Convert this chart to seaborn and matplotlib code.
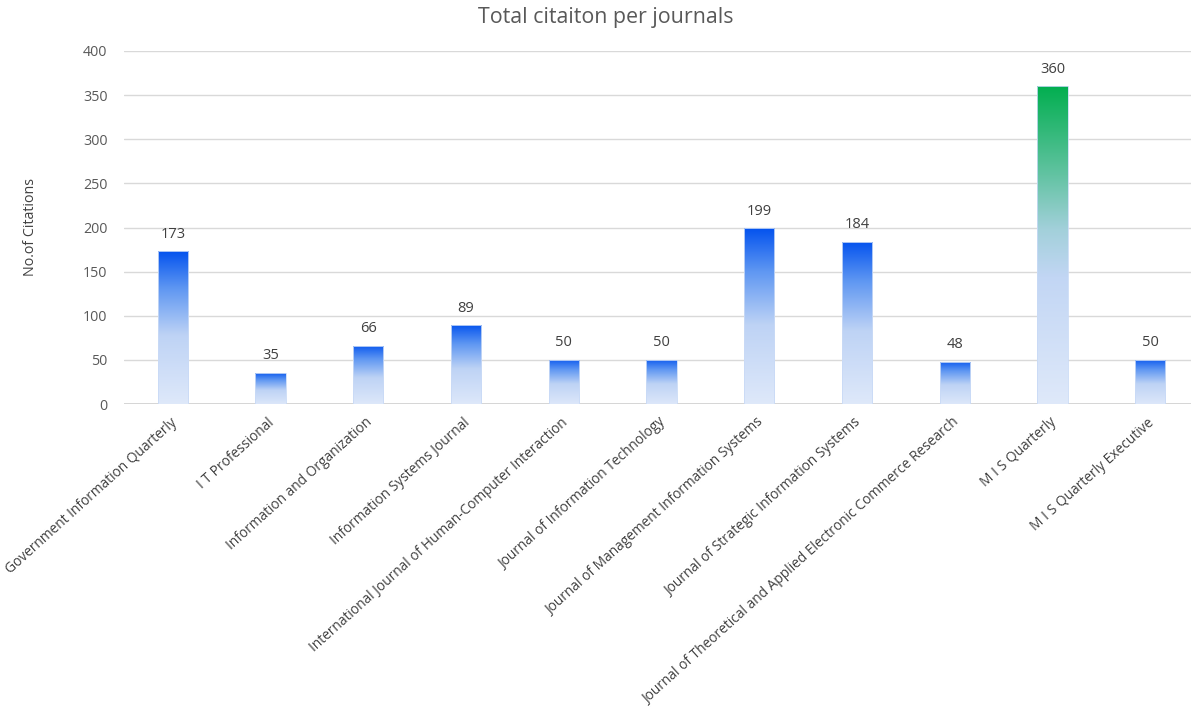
import numpy as np
import pandas as pd
import seaborn as sns
import matplotlib.pyplot as plt
import matplotlib.transforms as mtransforms
from matplotlib.colors import LinearSegmentedColormap

# data
journals = [
    "Government Information Quarterly",
    "I T Professional",
    "Information and Organization",
    "Information Systems Journal",
    "International Journal of Human-Computer Interaction",
    "Journal of Information Technology",
    "Journal of Management Information Systems",
    "Journal of Strategic Information Systems",
    "Journal of Theoretical and Applied Electronic Commerce Research",
    "M I S Quarterly",
    "M I S Quarterly Executive",
]
citations = [173, 35, 66, 89, 50, 50, 199, 184, 48, 360, 50]
highlight = "M I S Quarterly"

df = pd.DataFrame({"journal": journals, "citations": citations})

sns.set_theme(style="white")
plt.rcParams['font.family'] = ['Open Sans', 'DejaVu Sans']

# gradients go bottom (0) -> top (1)
blue_cmap = LinearSegmentedColormap.from_list(
    "blue", [(0, "#dfe9fa"), (0.45, "#bed3f5"), (0.75, "#5f97f2"), (1, "#0050ee")])
green_cmap = LinearSegmentedColormap.from_list(
    "green", [(0, "#dfe9fa"), (0.4, "#c2d6f4"), (0.55, "#a2d0da"), (0.72, "#62c3a2"), (1, "#00ae4e")])

fig = plt.figure(figsize=(11.91, 7.10), dpi=100)
ax = fig.add_axes([124 / 1191, 1 - 404 / 710, (1199 - 124) / 1191, (404 - 51) / 710])

sns.barplot(data=df, x="journal", y="citations", width=0.31, ax=ax,
            color="#4f86ee", errorbar=None)

grad = np.linspace(0, 1, 256).reshape(-1, 1)
for patch, name in zip(ax.patches, journals):
    x0, y0 = patch.get_x(), patch.get_y()
    w, h = patch.get_width(), patch.get_height()
    cmap = green_cmap if name == highlight else blue_cmap
    im = ax.imshow(grad, cmap=cmap, origin="lower", aspect="auto",
                   interpolation="bilinear",
                   extent=[x0 - 0.02, x0 + w + 0.02, y0 - 2, y0 + h + 2], zorder=2)
    im.set_clip_path(patch)
    patch.set_facecolor("none")
    patch.set_edgecolor("#c9daf6")
    patch.set_linewidth(0.6)
    patch.set_zorder(3)

ax.bar_label(ax.containers[0], padding=7, fontsize=10.5, color="#404040")

ax.set_xlim(-0.5, len(journals) - 0.5)
ax.set_ylim(0, 400)
ax.set_yticks(range(0, 401, 50))
ax.yaxis.grid(True, color="#d9d9d9", linewidth=1)
ax.set_axisbelow(True)
sns.despine(ax=ax, left=True, right=True, top=True, bottom=True)
ax.axhline(0, color="#d0d0d0", linewidth=1.2, zorder=1)

ax.tick_params(axis="y", length=0, pad=12, labelsize=10.3, labelcolor="#595959")
ax.tick_params(axis="x", length=0, pad=12, labelsize=9.9, labelcolor="#404040")
shift = mtransforms.ScaledTranslation(2 / 100, 0, fig.dpi_scale_trans)
for lab in ax.get_xticklabels():
    lab.set_rotation(42)
    lab.set_ha("right")
    lab.set_va("center")
    lab.set_rotation_mode("anchor")
    lab.set_transform(lab.get_transform() + shift)

ax.set_xlabel("")
ax.set_ylabel("No.of Citations", fontsize=10.3, color="#404040")
ax.yaxis.set_label_coords(-0.08, 0.5)

fig.text(606 / 1191, 1 - 17 / 710, "Total citaiton per journals",
         ha="center", va="center", fontsize=15.4, color="#595959")

plt.savefig("out.png", dpi=100)
